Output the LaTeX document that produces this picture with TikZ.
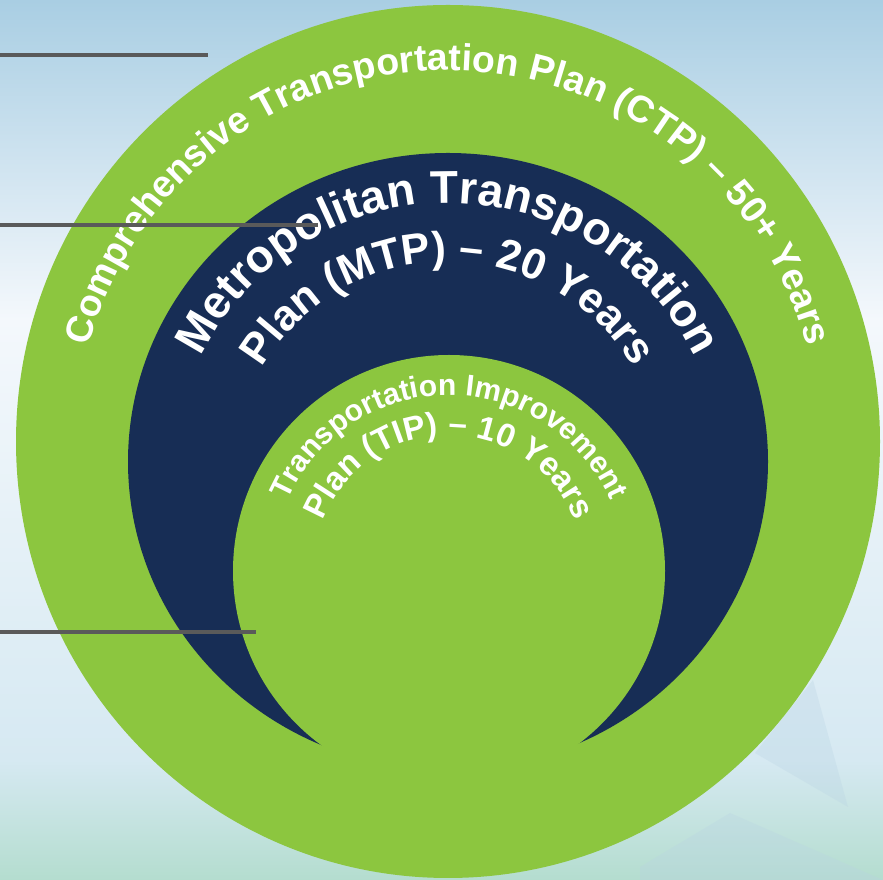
\documentclass[tikz,border=0pt]{standalone}
\usepackage{fontspec}
\setmainfont{Liberation Sans}
\usetikzlibrary{decorations.text,positioning,calc}
\definecolor{planverde}{HTML}{8CC63F}
\definecolor{planazul}{HTML}{172D55}
\definecolor{guiagris}{HTML}{5A5A5A}
\definecolor{cielo}{HTML}{A9CEE3}
\definecolor{bruma}{HTML}{F4F8FC}
\definecolor{celeste}{HTML}{D6E9F2}
\definecolor{agua}{HTML}{B4DDCF}
\definecolor{sombra}{HTML}{B9D3E3}
\newcommand{\rotulo}[1]{\fontsize{#1}{#1}\selectfont\bfseries}
\tikzstyle{anillo} =[fill=planverde]
\tikzstyle{medio} =[fill=planazul]
\tikzstyle{guia} =[draw=guiagris, line width=3.6pt]
\tikzstyle{brillo} =[fill=sombra, opacity=0.3]
\tikzset{ringtext/.style={decorate, decoration={text along path, text={#1}, text align=center, text color=white}}}

\begin{document}
\begin{tikzpicture}[x=1pt,y=1pt]
  \useasboundingbox (0,0) rectangle (883,880);
  \shade[top color=cielo, bottom color=bruma] (0,560) rectangle (883,880);
  \shade[top color=bruma, bottom color=celeste] (0,120) rectangle (883,560.5);
  \shade[top color=celeste, bottom color=agua] (0,0) rectangle (883,120.5);
  \fill[brillo] (813,200) -- (848,73) -- (755,127) -- cycle;
  \fill[brillo] (640,13) -- (730,67) -- (883,0) -- (640,0) -- cycle;

  \coordinate (ctp) at (448,438.5);
  \coordinate (mtp) at (448,418.4);
  \coordinate (tip) at (449,309);
  \coordinate (mtptext) at (448,402);

  \fill[anillo] (ctp) ellipse [x radius=432, y radius=436.5];
  \fill[medio] (mtp) ellipse [x radius=320, y radius=308.6];
  \fill[anillo] (tip) circle [radius=216];

  \path[ringtext={|\rotulo{37.5}|Comprehensive Transportation Plan (CTP) – 50+ Years}]
    ($(ctp)+(175:371)$) arc [start angle=175, end angle=5, radius=371];
  \path[ringtext={|\rotulo{46}|Metropolitan Transportation}]
    ($(mtptext)+(175:275)$) arc [start angle=175, end angle=5, radius=275];
  \path[ringtext={|\rotulo{43}|Plan (MTP) – 20 Years}]
    ($(mtptext)+(175:216)$) arc [start angle=175, end angle=5, radius=216];
  \path[ringtext={|\rotulo{30}|Transportation Improvement}]
    ($(tip)+(175:176)$) arc [start angle=175, end angle=5, radius=176];
  \path[ringtext={|\rotulo{33}|Plan (TIP) – 10 Years}]
    ($(tip)+(175:136)$) arc [start angle=175, end angle=5, radius=136];

  \foreach \y/\x [count=\i] in {825/208, 655/318, 248/256} {
    \coordinate (borde\i) at (0,\y);
    \coordinate (punta\i) at (\x,\y);
    \draw[guia] (borde\i) -- (punta\i);
  }
\end{tikzpicture}
\end{document}
